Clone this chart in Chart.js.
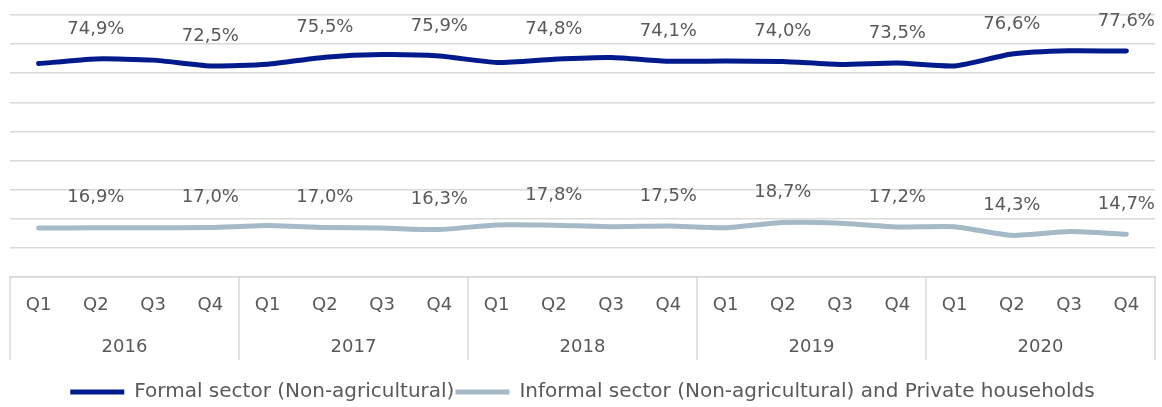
<!DOCTYPE html>
<html>
<head>
<meta charset="utf-8">
<script src="https://cdn.jsdelivr.net/npm/chart.js@4"></script>
<style>
  html, body { margin: 0; padding: 0; background: #fff; }
  #wrap { width: 1162px; height: 407px; }
</style>
</head>
<body>
<div id="wrap"><canvas id="employmentChart"></canvas></div>
<script>
// quarters and years for the two-level category axis
const quarters = [
  'Q1', 'Q2', 'Q3', 'Q4', 'Q1', 'Q2', 'Q3', 'Q4', 'Q1', 'Q2',
  'Q3', 'Q4', 'Q1', 'Q2', 'Q3', 'Q4', 'Q1', 'Q2', 'Q3', 'Q4'
]
const years = ['2016', '2017', '2018', '2019', '2020']

// shares in percent
const formalSector = [
  73.3, 74.9, 74.5, 72.5, 73.1, 75.5, 76.4, 75.9, 73.7, 74.8,
  75.4, 74.1, 74.2, 74.0, 73.0, 73.5, 72.5, 76.6, 77.7, 77.6
]
const informalSector = [
  16.8, 16.9, 16.9, 17.0, 17.7, 17.0, 16.8, 16.3, 17.9, 17.8,
  17.3, 17.5, 16.9, 18.7, 18.5, 17.2, 17.3, 14.3, 15.6, 14.7
]
const seriesNames = [
  'Formal sector (Non-agricultural)',
  'Informal sector (Non-agricultural) and Private households'
]

const FONT = "'DejaVu Sans', sans-serif"
const TEXT = '#595959'
const GRID = '#d9d9d9'

// value labels above every second point (Q2 and Q4)
const valueLabels = {
  id: 'valueLabels',
  afterDatasetsDraw (chart) {
    const ctx = chart.ctx
    ctx.save()
    ctx.font = '18px ' + FONT
    ctx.fillStyle = TEXT
    ctx.textAlign = 'center'
    ctx.textBaseline = 'middle'
    chart.data.datasets.forEach((ds, i) => {
      const meta = chart.getDatasetMeta(i)
      meta.data.forEach((pt, j) => {
        if (j % 2 === 0) return
        const txt = ds.data[j].toFixed(1).replace('.', ',') + '%'
        ctx.fillText(txt, pt.x, pt.y - 30)
      })
    })
    ctx.restore()
  }
}

// vertical separators between the year groups on the axis
const yearDividers = {
  id: 'yearDividers',
  afterDraw (chart) {
    const x = chart.scales.x
    const ctx = chart.ctx
    const xs = [chart.chartArea.left]
    for (let k = 1; k < years.length; k++) {
      xs.push((x.getPixelForValue(k * 4 - 1) + x.getPixelForValue(k * 4)) / 2)
    }
    xs.push(chart.chartArea.right)
    ctx.save()
    ctx.strokeStyle = GRID
    ctx.lineWidth = 1.5
    ctx.beginPath()
    xs.forEach((px) => {
      ctx.moveTo(px, chart.chartArea.bottom)
      ctx.lineTo(px, x.bottom + 41)
    })
    ctx.stroke()
    ctx.restore()
  }
}

const ctx = document.getElementById('employmentChart').getContext('2d')
const chart = new Chart(ctx, {
  type: 'line',
  data: {
    labels: quarters,
    datasets: [
      {
        label: seriesNames[0],
        data: formalSector,
        borderColor: '#021a8c',
        backgroundColor: '#021a8c',
        borderWidth: 5,
        borderCapStyle: 'round',
        pointRadius: 0,
        tension: 0.2
      },
      {
        label: seriesNames[1],
        data: informalSector,
        borderColor: '#a5b9c7',
        backgroundColor: '#a5b9c7',
        borderWidth: 5,
        borderCapStyle: 'round',
        pointRadius: 0,
        tension: 0.2
      }
    ]
  },
  options: {
    responsive: true,
    maintainAspectRatio: false,
    animation: false,
    layout: {
      padding: { top: 15, left: 10, right: 7, bottom: -5 }
    },
    scales: {
      y: {
        min: 0,
        max: 90,
        ticks: { display: false, stepSize: 10 },
        border: { display: false },
        grid: { color: GRID, lineWidth: 1.5, drawTicks: false }
      },
      x: {
        offset: true,
        ticks: {
          color: TEXT,
          font: { family: FONT, size: 18 },
          padding: 18,
          maxRotation: 0,
          autoSkip: false
        },
        grid: { display: false, drawTicks: false, offset: true },
        border: { display: true, color: GRID, width: 1.5 },
        afterFit (scale) { scale.height = 42 }
      },
      x2: {
        type: 'category',
        position: 'bottom',
        labels: years,
        offset: true,
        weight: 1,
        ticks: {
          color: TEXT,
          font: { family: FONT, size: 18 },
          padding: 18,
          maxRotation: 0
        },
        grid: { display: false, drawTicks: false },
        border: { display: false },
        afterFit (scale) { scale.height = 62 }
      }
    },
    plugins: {
      legend: {
        position: 'bottom',
        labels: {
          usePointStyle: true,
          pointStyle: 'line',
          pointStyleWidth: 54,
          color: TEXT,
          font: { family: FONT, size: 20 },
          padding: 1
        }
      },
      tooltip: { enabled: false }
    }
  },
  plugins: [valueLabels, yearDividers]
})
</script>
</body>
</html>
